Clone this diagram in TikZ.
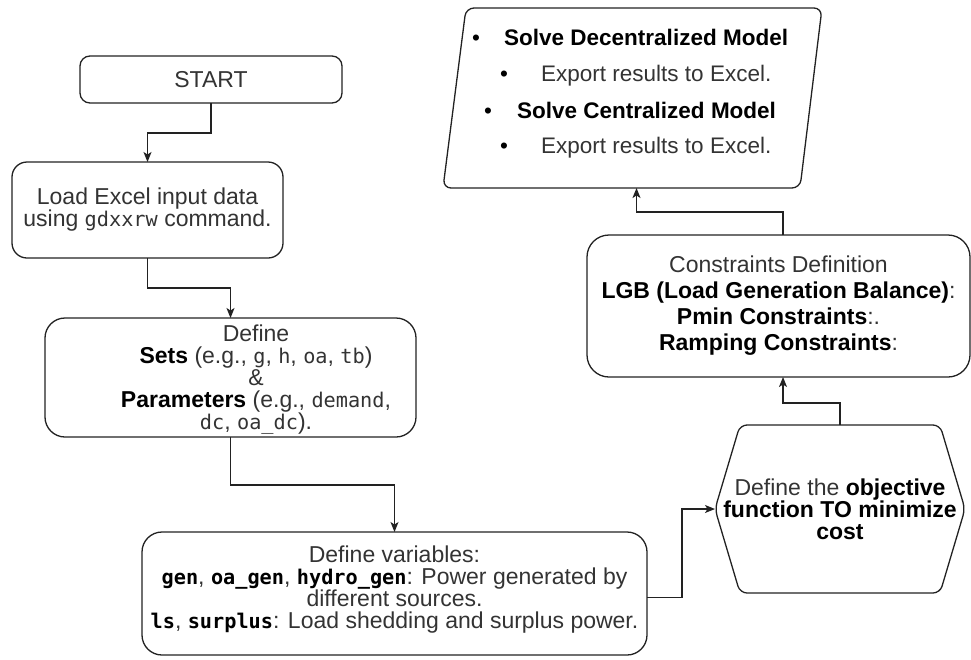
\documentclass[tikz,border=0pt]{standalone}
\usepackage{fontspec}
\setmainfont{Liberation Sans}
\setsansfont{Liberation Sans}
\setmonofont[Scale=0.88]{DejaVu Sans Mono}
\usetikzlibrary{arrows.meta,calc}
\definecolor{txt}{HTML}{333333}
\definecolor{ln}{HTML}{222222}
\newcommand\bk[1]{\textcolor{black}{\textbf{#1}}}
\newcommand\mo[1]{\texttt{#1}}
\newcommand\bmo[1]{\textcolor{black}{\texttt{\bfseries #1}}}
\begin{document}
\begin{tikzpicture}[x=1pt,y=-1pt,
  font=\fontsize{23}{22}\selectfont, text=txt,
  box/.style={draw=ln, line width=1.3pt, rounded corners=#1, align=center, inner sep=0pt, outer sep=0pt},
  shp/.style={draw=ln, line width=1.3pt, rounded corners=#1},
  arr/.style={draw=ln, line width=1.3pt, -{Stealth[length=10pt,width=8pt,inset=2.5pt]}},
  plain/.style={inner sep=0pt, outer sep=0pt, align=center},
  bul/.style={inner sep=0pt, anchor=base west, font=\fontsize{22.5}{22}\selectfont}]
\useasboundingbox (0,0) rectangle (971,659);

% START
\node[box=10, minimum width=262, minimum height=47] (start) at (211,79.5) {START};
% Load
\node[box=15, minimum width=271, minimum height=96] (load) at (147.5,210) {Load Excel input data\\using \mo{gdxxrw} command.};
% Define sets/params
\node[box=20, minimum width=371, minimum height=119] (def) at (230.5,377.5) {};
\node[plain] (deftxt) at (256,379.5) {Define\\\bk{Sets} (e.g., \mo{g}, \mo{h}, \mo{oa}, \mo{tb})\\\&\\\bk{Parameters} (e.g., \mo{demand},\\\mo{dc}, \mo{oa\_dc}).};
% Variables
\node[box=20, minimum width=505, minimum height=123] (var) at (394.5,593.5) {};
\node[plain] (vartxt) at (394.5,590) {Define variables:\\\bmo{gen}, \bmo{oa\_gen}, \bmo{hydro\_gen}: Power generated by\\different sources.\\\bmo{ls}, \bmo{surplus}: Load shedding and surplus power.};
% Hexagon
\node[plain, minimum width=250, minimum height=168] (hex) at (840,509) {Define the \bk{objective}\\\bk{function TO minimize}\\\bk{cost}};
\draw[shp=7] (hex.west) -- ($(hex.north west)+(25,0)$) -- ($(hex.north east)+(-25,0)$) -- (hex.east) -- ($(hex.south east)+(-25,0)$) -- ($(hex.south west)+(25,0)$) -- cycle;
% Constraints
\node[box=22, minimum width=383, minimum height=142, font=\fontsize{23}{26}\selectfont] (cons) at (778.5,306) {Constraints Definition\\\bk{LGB (Load Generation Balance)}:\\\bk{Pmin Constraints}:.\\\bk{Ramping Constraints}:};
% Parallelogram
\node[plain, minimum width=379, minimum height=180] (para) at (632.5,98) {};
\draw[shp=8] (para.south west) -- ($(para.south east)+(-22,0)$) -- (para.north east) -- ($(para.north west)+(23,0)$) -- cycle;
\node[bul] (b1) at (472,45) {\textcolor{black}{\textbullet}};
\node[bul] (t1) at (504,45) {\bk{Solve Decentralized Model}};
\node[bul] (b2) at (500,81) {\textcolor{black}{\textbullet}};
\node[bul] (t2) at (541,81) {Export results to Excel.};
\node[bul] (b3) at (484,118) {\textcolor{black}{\textbullet}};
\node[bul] (t3) at (517,118) {\bk{Solve Centralized Model}};
\node[bul] (b4) at (500,153) {\textcolor{black}{\textbullet}};
\node[bul] (t4) at (541,153) {Export results to Excel.};

% Connectors
\draw[arr] (start.south) -- ++(0,30) -| (load.north);
\draw[arr] (load.south) -- ++(0,30) -| (def.north);
\draw[arr] (def.south) -- ++(0,48) -| (var.north);
\draw[arr] ($(var.east)+(0,4)$) -- ++(35,0) |- (hex.west);
\draw[arr] (hex.north) -- ++(0,-22) -| ($(cons.south)+(4.5,0)$);
\draw[arr] ($(cons.north)+(4.5,0)$) -- ++(0,-23) -| ($(para.south)+(4,0)$);
\end{tikzpicture}
\end{document}
